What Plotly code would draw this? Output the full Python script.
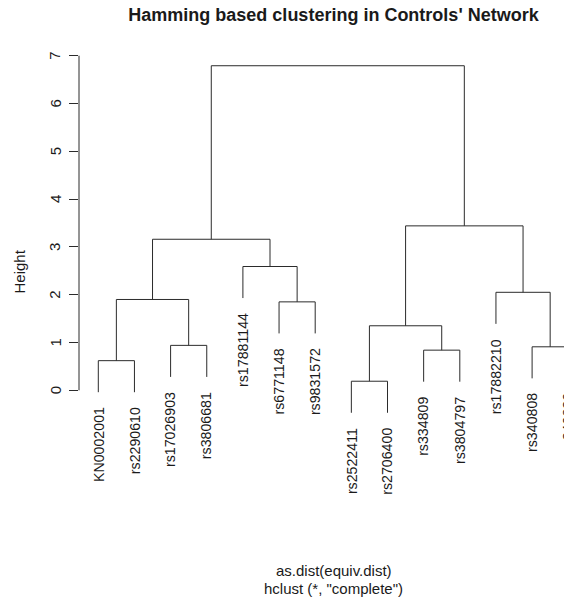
import plotly.graph_objects as go

# ---- data ----
leaf_labels = ["KN0002001", "rs2290610", "rs17026903", "rs3806681", "rs17881144",
               "rs6771148", "rs9831572", "rs2522411", "rs2706400", "rs334809",
               "rs3804797", "rs17882210", "rs340808", "rs340830"]
# merges in R hclust style: negative = leaf (1-based position in leaf_labels), positive = merge index
merge_left = [-8, -10, -13, -1, -3, 1, -6, 4, -12, -5, 8, 6, 11]
merge_right = [-9, -11, -14, -2, -4, 2, -7, 5, 3, 7, 10, 9, 12]
merge_height = [0.19, 0.84, 0.91, 0.62, 0.94, 1.35, 1.85, 1.90, 2.05, 2.59, 3.16, 3.44, 6.79]
ytick_vals = [0, 1, 2, 3, 4, 5, 6, 7]

title_text = "Hamming based clustering in Controls' Network"
xlab_text = "as.dist(equiv.dist)"
sub_text = 'hclust (*, "complete")'
ylab_text = "Height"

# ---- layout constants ----
OFF = 8  # page body margin in the browser
W, H = 572 - OFF, 600 - OFF
ML, MR, MT, MB = 79 - OFF, 0, 52 - OFF, 109
FONT = "Liberation Sans, Arial, Helvetica, sans-serif"
LINE = "#2b2b2b"
TXT = "#1a1a1a"

hang = 0.1 * (max(merge_height) - min(merge_height))

node_x = {}
xs, ys = [], []
leaf_bottom = {}
def child_info(c, parent_h):
    if c < 0:
        x = float(-c)
        yb = parent_h - hang
        leaf_bottom[-c] = yb
        return x, yb
    return node_x[c], merge_height[c - 1]

for i, (a, b, h) in enumerate(zip(merge_left, merge_right, merge_height), start=1):
    xa, ya = child_info(a, h)
    xb, yb = child_info(b, h)
    xs += [xa, xa, xb, xb, None]
    ys += [ya, h, h, yb, None]
    node_x[i] = (xa + xb) / 2

fig = go.Figure()
fig.add_trace(go.Scatter(x=xs, y=ys, mode="lines",
                         line=dict(color=LINE, width=1), hoverinfo="skip",
                         showlegend=False, cliponaxis=False))

plot_h = H - MT - MB
plot_w = W - ML - MR
def py(pix):  # reference pixel -> paper y
    return (H - MB - (pix - OFF)) / plot_h
def px(pix):  # reference pixel -> paper x
    return ((pix - OFF) - ML) / plot_w

annotations = []
for idx, lab in enumerate(leaf_labels, start=1):
    annotations.append(dict(x=idx, y=leaf_bottom[idx], xref="x", yref="y",
                            text=lab, textangle=-90, showarrow=False,
                            xanchor="center", yanchor="top", yshift=-13,
                            font=dict(family=FONT, size=14.2, color=TXT)))
for v in ytick_vals:
    annotations.append(dict(x=0, y=v, xref="paper", yref="y", text=str(v),
                            textangle=-90, showarrow=False, xanchor="center",
                            yanchor="middle", xshift=-24,
                            font=dict(family=FONT, size=15, color=TXT)))

annotations.append(dict(x=px(18.5), y=py(272), xref="paper", yref="paper",
                        text=ylab_text, textangle=-90, showarrow=False,
                        xanchor="center", yanchor="middle",
                        font=dict(family=FONT, size=15, color=TXT)))
annotations.append(dict(x=px(333.5), y=py(570.7), xref="paper", yref="paper",
                        text=xlab_text, showarrow=False, xanchor="center", yanchor="middle",
                        font=dict(family=FONT, size=15, color=TXT)))
annotations.append(dict(x=px(333.5), y=py(588), xref="paper", yref="paper",
                        text=sub_text, showarrow=False, xanchor="center", yanchor="middle",
                        font=dict(family=FONT, size=15, color=TXT)))

# data <-> reference pixel mapping: leaf 1 at x=98.3, 36.15 px per leaf; y=0 at 390.3, 47.8 px per unit
x0 = 1 - (98.3 - 79) / 36.15
x1 = 1 + (572 - 98.3) / 36.15
y_top = (390.3 - 52) / 47.8
y_bot = (390.3 - 491) / 47.8

fig.add_shape(type="line", xref="paper", yref="y", x0=0, x1=0,
              y0=min(ytick_vals), y1=max(ytick_vals), line=dict(color=LINE, width=1))

fig.update_layout(
    width=W, height=H, margin=dict(l=ML, r=MR, t=MT, b=MB),
    paper_bgcolor="white", plot_bgcolor="white",
    title=dict(text="<b>" + title_text + "</b>", x=(333.5 - OFF) / W, y=1 - (15 - OFF) / H,
               xanchor="center", yanchor="middle", xref="container", yref="container",
               font=dict(family=FONT, size=18, color=TXT)),
    xaxis=dict(range=[x0, x1], showgrid=False, zeroline=False, showline=False,
               showticklabels=False, ticks=""),
    yaxis=dict(range=[y_bot, y_top], showgrid=False, zeroline=False, showline=False,
               tickvals=ytick_vals, ticks="outside", ticklen=9, tickcolor=LINE,
               tickwidth=1, showticklabels=False),
    annotations=annotations,
    showlegend=False,
)

fig.write_html("out.html")
